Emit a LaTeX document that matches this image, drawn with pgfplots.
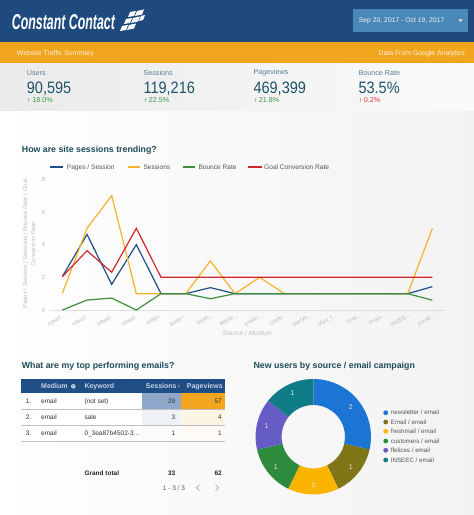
\documentclass[border=0pt]{standalone}
\usepackage{pgfplots}
\pgfplotsset{compat=1.18}
\usepackage{pgfplotstable}
\usepackage{fontspec}
\setmainfont{Liberation Sans}
\newfontfamily\sym{DejaVu Sans}
\newcommand\fs[1]{\fontsize{#1bp}{#1bp}\selectfont}
\newcommand\el{.\kern0.3pt.\kern0.3pt.}
\definecolor{navyHdr}{HTML}{1E4A7E}
\definecolor{dateBox}{HTML}{4A88B8}
\definecolor{orangeBand}{HTML}{F0A51C}
\definecolor{kpiNum}{HTML}{1D5466}
\definecolor{kpiLbl}{HTML}{5A7F8C}
\definecolor{upGreen}{HTML}{3B9B4B}
\definecolor{upRed}{HTML}{D63B3B}
\definecolor{titleCol}{HTML}{1E4B5A}
\definecolor{cPPS}{HTML}{1F4E86}
\definecolor{cSES}{HTML}{F4B32B}
\definecolor{cBR}{HTML}{3E8E3E}
\definecolor{cGCR}{HTML}{D0262D}
\definecolor{tblHdr}{HTML}{1F4E86}
\definecolor{heatBlue}{HTML}{8FA7CB}
\definecolor{heatOrange}{HTML}{F2A51E}
\definecolor{cNews}{HTML}{1C74D4}
\definecolor{cEmail}{HTML}{7E7516}
\definecolor{cFresh}{HTML}{FBB500}
\definecolor{cCust}{HTML}{2E8B3D}
\definecolor{cFfel}{HTML}{665CC6}
\definecolor{cInsee}{HTML}{0F7C87}
\definecolor{txtGray}{HTML}{555555}

\pgfplotstableread{
x pps ses br gcr
0 2.04 1.02 0 2.04
1 4.63 5.0 0.61 3.63
2 1.57 7.0 0.73 2.31
3 4.0 1.0 0 5.0
4 1.0 1.0 1.0 2.0
5 1.0 1.0 1.0 2.0
6 1.37 3.0 0.69 2.0
7 1.0 1.0 1.0 2.0
8 1.0 2.0 1.0 2.0
9 1.0 1.0 1.0 2.0
10 1.0 1.0 1.0 2.0
11 1.0 1.0 1.0 2.0
12 1.0 1.0 1.0 2.0
13 1.0 1.0 1.0 2.0
14 1.0 1.0 1.0 2.0
15 1.43 5.0 0.6 2.0
}\trend

\begin{document}
\begin{tikzpicture}[x=1bp,y=-1bp]
\useasboundingbox (0,0) rectangle (474,515);
\fill[white] (0,0) rectangle (474,515);
\shade[left color=white, right color=black!5] (0,111) rectangle (474,515);
% header
\fill[navyHdr] (0,0) rectangle (474,41.7);
\fill[orangeBand] (0,41.7) rectangle (474,63.3);
\shade[left color=black!8, right color=black!2] (0,63.3) rectangle (474,111);
% logo
\node[anchor=base west, inner sep=0, text=white] at (11.7,30) {\resizebox{103bp}{15bp}{\bfseries\itshape Constant Contact}};
\fill[white] (130,12)--(136,11)--(134,16)--(128,17)--cycle;
\fill[white] (137,11)--(144,9.5)--(142,14.5)--(135,16)--cycle;
\fill[white] (126,19)--(132,18)--(130,23)--(124,24)--cycle;
\fill[white] (133,18)--(140,16.5)--(138,21.5)--(131,23)--cycle;
\fill[white] (141,16)--(145,15)--(143,20)--(139,21)--cycle;
\fill[white] (122,26)--(128,25)--(126,30)--(120,31)--cycle;
\fill[white] (129,25)--(136,23.5)--(134,28.5)--(127,30)--cycle;
% date box
\fill[dateBox] (352.7,9.3) rectangle (468.3,31.7);
\node[anchor=west, inner sep=0, text=white!90!dateBox, font=\fs{6.8}] at (358.7,20.7) {Sep 20, 2017 - Oct 19, 2017};
\fill[white!85!dateBox] (458.5,19.5) -- (462.5,19.5) -- (460.5,22) -- cycle;
% orange band text
\node[anchor=west, inner sep=0, text=white!85!orangeBand, font=\fs{6.9}] at (16.7,54) {Website Traffic Summary};
\node[anchor=east, inner sep=0, text=white!85!orangeBand, font=\fs{6.9}] at (465,54) {Data From Google Analytics};
% KPIs
\foreach \xx/\lbl/\num/\chg/\col in {26.7/Users/{90,595}/18.0/upGreen, 143.3/Sessions/{119,216}/22.5/upGreen, 253.3/Pageviews/{469,399}/21.8/upGreen, 358.3/Bounce Rate/{53.5\%}/0.2/upRed}{
  \node[anchor=west, inner sep=0, text=kpiLbl, font=\fs{7.2}] at (\xx,72.7) {\lbl};
  \node[anchor=base west, inner sep=0, text=kpiNum] at (\xx,93.3) {\scalebox{0.88}[1]{\fs{16.5}\num}};
  \node[anchor=west, inner sep=0, text=\col, font=\fs{7.2}] at (\xx,99.7) {{\sym\fs{5}↑}\,\chg\%};
}
% line chart title and legend
\node[anchor=west, inner sep=0, text=titleCol, font=\bfseries\fs{8.8}] at (21.7,150.7) {How are site sessions trending?};
\fill[fill=cPPS] (50,166.2) rectangle (63.3,168.4);
\node[anchor=west, inner sep=0, text=txtGray, font=\fs{6.6}] at (66.7,167.3) {Pages / Session};
\fill[fill=cSES] (128.3,166.2) rectangle (140,168.4);
\node[anchor=west, inner sep=0, text=txtGray, font=\fs{6.6}] at (143.3,167.3) {Sessions};
\fill[fill=cBR] (182.7,166.2) rectangle (195,168.4);
\node[anchor=west, inner sep=0, text=txtGray, font=\fs{6.6}] at (198.3,167.3) {Bounce Rate};
\fill[fill=cGCR] (248.3,166.2) rectangle (261.7,168.4);
\node[anchor=west, inner sep=0, text=txtGray, font=\fs{6.6}] at (264,167.3) {Goal Conversion Rate};
% y label
\node[rotate=90, align=center, text=black!25, font=\fontsize{6bp}{8.3bp}\selectfont, inner sep=0] at (29.2,244) {Pages / Session | Sessions | Bounce Rate | Goal\\Conversion Rate};
\node[text=black!25, font=\itshape\fs{6.5}, inner sep=0] at (247.3,332.7) {Source / Medium};

\begin{axis}[
  at={(50bp,-310bp)}, anchor=south west, scale only axis,
  width=394.7bp, height=130.7bp,
  xmin=-0.5, xmax=15.5, ymin=0, ymax=8,
  ytick={0,2,4,6,8}, xtick={0,1,2,3,4,5,6,7,8,9,10,11,12,13,14,15},
  xticklabels={{newsl\el},{newsl\el},{newsl\el},{newsl\el},{megu\el},{lewis /\el},{fresh\el},{ffelice\el},{evelin\el},{custo\el},{barryh\el},{Vive\_l\el},{Vive\el},{Prom\el},{INSEE\el},{Email\el}},
  axis x line*=bottom, axis y line*=left,
  x axis line style={draw=black!13, line width=0.8bp, -},
  y axis line style={draw=none},
  major tick length=0pt,
  /pgf/number format/assume math mode=true,
  yticklabel style={font=\fs{6}, text=black!28, anchor=east, inner sep=0pt, xshift=-4.5bp},
  xticklabel style={font=\fs{5.6}, text=black!28, rotate=30, anchor=north east, inner sep=0pt, yshift=-3bp},
  clip=false,
]
\addplot[color=cPPS, line width=1.2bp, mark=none] table[x=x,y=pps]{\trend};
\addplot[color=cSES, line width=1.2bp, mark=none] table[x=x,y=ses]{\trend};
\addplot[color=cBR, line width=1.2bp, mark=none] table[x=x,y=br]{\trend};
\addplot[color=cGCR, line width=1.2bp, mark=none] table[x=x,y=gcr]{\trend};
\end{axis}

% table
\node[anchor=west, inner sep=0, text=titleCol, font=\bfseries\fs{8.8}] at (21.7,366.7) {What are my top performing emails?};
\fill[tblHdr] (21,379.3) rectangle (225,393.3);
\fill[white] (21,393.3) rectangle (225,441);
\fill[heatBlue] (141.7,393.3) rectangle (180.5,409.5);
\fill[heatOrange] (180.5,393.3) rectangle (225,409.5);
\fill[heatBlue!14] (141.7,409.5) rectangle (180.5,425.5);
\fill[heatOrange!12] (180.5,409.5) rectangle (225,425.5);
\fill[heatBlue!5] (141.7,425.5) rectangle (180.5,441);
\fill[heatOrange!4] (180.5,425.5) rectangle (225,441);
\foreach \yy in {409.5,425.5,441}{\draw[black!25, line width=1bp] (21,\yy)--(225,\yy);}
\node[anchor=west, inner sep=0, text=white!75!tblHdr, font=\bfseries\fs{7}] at (41,386.3) {Medium};
\fill[white!75!tblHdr] (73.3,386.3) circle (2.3);
\node[inner sep=0, text=tblHdr, font=\bfseries\fs{4}] at (73.3,386.3) {i};
\node[anchor=west, inner sep=0, text=white!75!tblHdr, font=\bfseries\fs{7}] at (84.3,386.3) {Keyword};
\node[anchor=west, inner sep=0, text=white!75!tblHdr, font=\bfseries\fs{7}] at (145.7,386.3) {Sessions};
\node[inner sep=0, text=white!75!tblHdr, font=\sym\fs{4.5}] at (179,386.3) {↓};
\node[anchor=west, inner sep=0, text=white!75!tblHdr, font=\bfseries\fs{7}] at (186.7,386.3) {Pageviews};
\foreach \yy/\n/\kw/\s/\p in {401.4/1./{(not set)}/29/57, 417.5/2./sale/3/4, 433.3/3./{0\_3ea87b4502-3\el}/1/1}{
  \node[anchor=west, inner sep=0, text=black!80, font=\fs{6.5}] at (25.7,\yy) {\n};
  \node[anchor=west, inner sep=0, text=black!80, font=\fs{6.5}] at (41,\yy) {email};
  \node[anchor=west, inner sep=0, text=black!80, font=\fs{6.5}] at (84.3,\yy) {\kw};
  \node[anchor=east, inner sep=0, text=black!80, font=\fs{6.5}] at (175.5,\yy) {\s};
  \node[anchor=east, inner sep=0, text=black!80, font=\fs{6.5}] at (222,\yy) {\p};
}
\node[anchor=west, inner sep=0, text=black!85, font=\bfseries\fs{6.5}] at (84.3,473.3) {Grand total};
\node[anchor=east, inner sep=0, text=black!85, font=\bfseries\fs{6.5}] at (175.5,473.3) {33};
\node[anchor=east, inner sep=0, text=black!85, font=\bfseries\fs{6.5}] at (222,473.3) {62};
\node[anchor=west, inner sep=0, text=txtGray, font=\fs{6.5}] at (162.7,487.7) {1 - 3 / 3};
\draw[black!40, line width=0.6bp] (199.5,484.7)--(196.5,487.7)--(199.5,490.7);
\draw[black!40, line width=0.6bp] (215.5,484.7)--(218.5,487.7)--(215.5,490.7);

% donut
\node[anchor=west, inner sep=0, text=titleCol, font=\bfseries\fs{8.8}] at (253.3,366.7) {New users by source / email campaign};
\begin{axis}[at={(313.3bp,-436.7bp)}, anchor=center, scale only axis,
  width=115.4bp, height=115.4bp, xmin=-1, xmax=1, ymin=-1, ymax=1,
  hide axis, clip=false]
\addplot[draw=none, mark=none] coordinates {(0,0)};
\foreach \a/\b/\v/\c in {0/2/2/cNews,2/3/1/cEmail,3/4/1/cFresh,4/5/1/cCust,5/6/1/cFfel,6/7/1/cInsee}{
  \pgfmathsetmacro\s{90-360*\a/7}
  \pgfmathsetmacro\e{90-360*\b/7}
  \pgfmathsetmacro\m{(\s+\e)/2}
  \edef\temp{\noexpand\fill[\c] ([shift={(\s:57.7bp)}]axis cs:0,0) arc[start angle=\s, end angle=\e, radius=57.7bp] -- ([shift={(\e:31.7bp)}]axis cs:0,0) arc[start angle=\e, end angle=\s, radius=31.7bp] -- cycle;
   \noexpand\node[text=white!90!black, font=\noexpand\fs{7}, inner sep=0] at ([shift={(\m:48bp)}]axis cs:0,0) {\v};}
  \temp
}
\end{axis}
\foreach \yy/\c/\t in {412.7/cNews/{newsletter / email}, 422/cEmail/{Email / email}, 431.3/cFresh/{freshmail / email}, 441/cCust/{customers / email}, 450.3/cFfel/{ffelices / email}, 460/cInsee/{INSEEC / email}}{
  \fill[\c] (385.7,\yy) circle (2.4);
  \node[anchor=west, inner sep=0, text=txtGray, font=\fs{6.2}] at (390.7,\yy) {\t};
}
\end{tikzpicture}
\end{document}
